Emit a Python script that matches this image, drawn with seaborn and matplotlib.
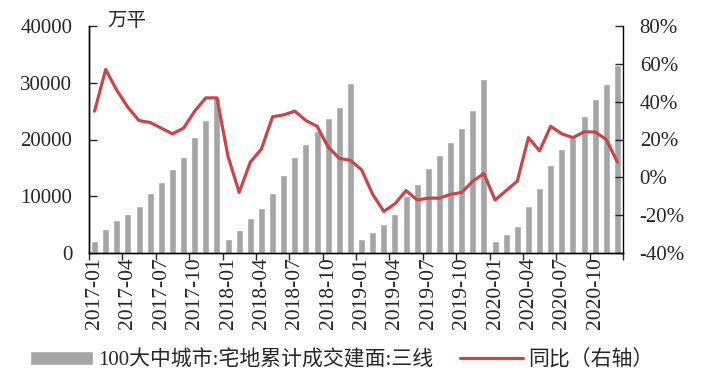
import numpy as np
import pandas as pd
import matplotlib
matplotlib.use("Agg")
import matplotlib.pyplot as plt
import matplotlib.ticker as mticker
import seaborn as sns

sns.set_style("white")
plt.rcParams['font.family'] = ['Liberation Serif', 'Noto Sans CJK SC']
plt.rcParams['axes.unicode_minus'] = False

# months 2017-01 .. 2020-12
months = pd.date_range("2017-01", "2020-12", freq="MS").strftime("%Y-%m").tolist()

# 100大中城市:宅地累计成交建面:三线 (万平)
area = [2200, 4300, 5800, 6800, 8200, 10500, 12500, 14800, 16900, 20400, 23500, 27500,
        2500, 4000, 6100, 7900, 10600, 13800, 16900, 19200, 21500, 23800, 25700, 29900,
        2400, 3700, 5100, 6800, 10000, 12100, 14900, 17200, 19500, 22000, 25200, 30600,
        2200, 3400, 4800, 8200, 11400, 15500, 18400, 20400, 24100, 27200, 29700, 33100]

# 同比 (%)
yoy = [35, 57, 46, 37, 30, 29, 26, 23, 26, 35, 42, 42,
       11, -8, 8, 15, 32, 33, 35, 30, 27, 16, 10, 9,
       4, -9, -18, -14, -7, -12, -11, -11, -9, -8, -2, 2,
       -12, -7, -2, 21, 14, 27, 23, 21, 24, 24, 20, 8]

df = pd.DataFrame({"month": months, "area": area, "yoy": yoy})
df["pos"] = np.arange(len(df))

bar_color = "#A5A5A5"
line_color = "#C9444B"

fig = plt.figure(figsize=(7.12, 3.85), dpi=100)
ax = fig.add_axes([89/712, 1-253/385, 534/712, 227/385])

sns.barplot(data=df, x="pos", y="area", color=bar_color, width=0.62,
            saturation=1, ax=ax, label="100大中城市:宅地累计成交建面:三线")
if ax.get_legend() is not None:
    ax.get_legend().remove()
ax.set_xlim(-0.5, len(df) - 0.5)
ax.set_ylim(0, 40000)
ax.set_yticks([0, 10000, 20000, 30000, 40000])
ax.set_xlabel("")
ax.set_ylabel("")

ax2 = ax.twinx()
sns.lineplot(data=df, x="pos", y="yoy", color=line_color, linewidth=2.3,
             ax=ax2, label="同比（右轴）", legend=False)
ax2.set_ylim(-40, 80)
ax2.set_yticks([-40, -20, 0, 20, 40, 60, 80])
ax2.yaxis.set_major_formatter(mticker.FuncFormatter(lambda v, p: f"{int(v)}%"))
ax2.set_ylabel("")
ax2.set_xlim(-0.5, len(df) - 0.5)

# x axis: ticks between categories, labels every 3 months
ax.xaxis.set_major_locator(mticker.FixedLocator(np.arange(-0.5, len(df), 3)))
ax.xaxis.set_major_formatter(mticker.NullFormatter())
ax.xaxis.set_minor_locator(mticker.FixedLocator(df["pos"][::3]))
ax.xaxis.set_minor_formatter(mticker.FixedFormatter(df["month"][::3].tolist()))
ax.tick_params(axis="x", which="major", direction="out", length=5, width=1, bottom=True)
ax.tick_params(axis="x", which="minor", length=0, pad=3, labelsize=15.5, labelrotation=90, bottom=True)
ax.tick_params(axis="y", direction="in", length=6, width=1, pad=12, labelsize=15, left=True)
ax2.tick_params(axis="y", direction="in", length=6, width=1, pad=12, labelsize=15, right=True)

for a in (ax, ax2):
    a.spines["top"].set_visible(False)
    for s in ("left", "right", "bottom"):
        a.spines[s].set_color("black")
        a.spines[s].set_linewidth(1)
ax.spines["right"].set_visible(False)

ax.text(0.034, 1.018, "万平", transform=ax.transAxes, fontsize=14, va="center", ha="left")

h1, l1 = ax.get_legend_handles_labels()
h2, l2 = ax2.get_legend_handles_labels()
fig.legend(h1 + h2, l1 + l2, loc="center", bbox_to_anchor=(0.48, 1-360/385), ncol=2,
           frameon=False, fontsize=15, handlelength=3.0, columnspacing=1.3,
           handletextpad=0.25, borderaxespad=0)

fig.savefig("out.png", dpi=100)
